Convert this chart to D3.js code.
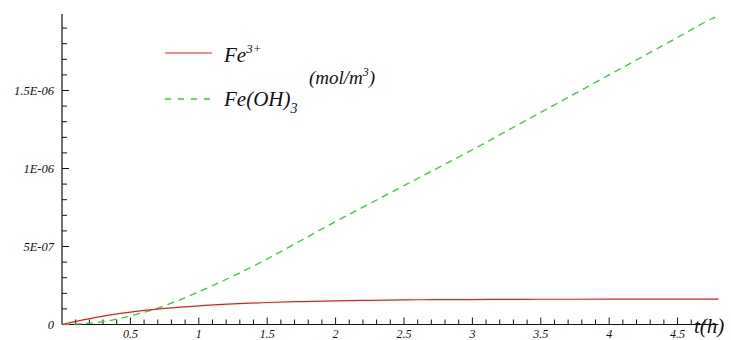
<!DOCTYPE html>
<html>
<head>
<meta charset="utf-8">
<script src="https://cdn.jsdelivr.net/npm/d3@7"></script>
<style>
  body { margin: 0; background: #fff; }
</style>
</head>
<body>
<div id="chart"></div>
<script>
// time in hours
const times = [0, 0.25, 0.5, 0.75, 1.0, 1.25, 1.5, 1.75, 2.0, 2.25, 2.5, 2.75, 3.0, 3.25, 3.5, 3.75, 4.0, 4.25, 4.5, 4.75, 4.8];
// Fe3+ concentration (mol/m3)
const fe3 = [0, 0.046e-6, 0.079e-6, 0.103e-6, 0.120e-6, 0.132e-6, 0.141e-6, 0.147e-6, 0.152e-6, 0.155e-6, 0.158e-6, 0.159e-6, 0.160e-6, 0.161e-6, 0.162e-6, 0.162e-6, 0.163e-6, 0.163e-6, 0.163e-6, 0.163e-6, 0.163e-6];
// Fe(OH)3 concentration (mol/m3)
const feoh3 = [0, 0.012e-6, 0.055e-6, 0.12e-6, 0.21e-6, 0.31e-6, 0.42e-6, 0.54e-6, 0.66e-6, 0.775e-6, 0.89e-6, 1.005e-6, 1.12e-6, 1.24e-6, 1.36e-6, 1.48e-6, 1.60e-6, 1.72e-6, 1.84e-6, 1.96e-6, 1.98e-6];

const xMajor = [0.5, 1, 1.5, 2, 2.5, 3, 3.5, 4, 4.5];
const yMajor = [0, 5e-7, 1e-6, 1.5e-6];
const yLabels = ["0", "5E-07", "1E-06", "1.5E-06"];

const FONT = 'Liberation Serif';
const width = 731, height = 340;
const svg = d3.select('#chart').append('svg')
  .attr('width', width)
  .attr('height', height);

const x = d3.scaleLinear().domain([0, 4.8]).range([62, 718.6]);
const y = d3.scaleLinear().domain([0, 2e-6]).range([324.5, 12.5]);

function txt(sel) {
  return sel.attr('font-family', FONT).attr('font-style', 'italic').attr('fill', '#111');
}

// x axis (ticks point up, inside)
const xMinor = d3.range(1, 48).map(i => i / 10).filter(v => Math.abs(v * 2 - Math.round(v * 2)) > 1e-6);
const gx = svg.append('g').attr('transform', `translate(0,${y(0)})`);
gx.append('line').attr('x1', x(0)).attr('x2', x(4.8)).attr('stroke', '#111').attr('stroke-width', 1.2);
gx.selectAll('.xmin').data(xMinor).enter().append('line')
  .attr('x1', d => x(d)).attr('x2', d => x(d)).attr('y1', 0).attr('y2', -5)
  .attr('stroke', '#111');
gx.selectAll('.xmaj').data(xMajor).enter().append('line')
  .attr('x1', d => x(d)).attr('x2', d => x(d)).attr('y1', 0).attr('y2', -7)
  .attr('stroke', '#111');
gx.selectAll('.xlab').data(xMajor).enter().append('text')
  .call(txt)
  .attr('x', d => x(d)).attr('y', 13)
  .attr('text-anchor', 'middle').attr('font-size', 12)
  .text(d => d);

// y axis (ticks point right, inside)
const yMinor = d3.range(1, 20).map(i => i * 1e-7).filter(v => Math.round(v / 1e-7) % 5 !== 0);
const gy = svg.append('g').attr('transform', `translate(${x(0)},0)`);
gy.append('line').attr('y1', y(0)).attr('y2', y(1.99e-6)).attr('stroke', '#111').attr('stroke-width', 1.2);
gy.selectAll('.ymin').data(yMinor).enter().append('line')
  .attr('y1', d => y(d)).attr('y2', d => y(d)).attr('x1', 0).attr('x2', 5)
  .attr('stroke', '#111');
gy.selectAll('.ymaj').data(yMajor).enter().append('line')
  .attr('y1', d => y(d)).attr('y2', d => y(d)).attr('x1', 0).attr('x2', 7)
  .attr('stroke', '#111');
gy.selectAll('.ylab').data(yMajor).enter().append('text')
  .call(txt)
  .attr('x', -8).attr('y', d => y(d) + 4)
  .attr('text-anchor', 'end').attr('font-size', 12.5)
  .text((d, i) => yLabels[i]);

// axis title
svg.append('text').call(txt).attr('x', 694).attr('y', 333).attr('font-size', 21).text('t(h)');

// curves
const line = d3.line().curve(d3.curveMonotoneX);
svg.append('path')
  .attr('d', line(times.map((t, i) => [x(t), y(feoh3[i])])))
  .attr('fill', 'none').attr('stroke', '#33cc33').attr('stroke-width', 1.3)
  .attr('stroke-dasharray', '7,5');
svg.append('path')
  .attr('d', line(times.map((t, i) => [x(t), y(fe3[i])])))
  .attr('fill', 'none').attr('stroke', '#dd1f1f').attr('stroke-width', 1.2);

// legend
const lg = svg.append('g');
lg.append('line').attr('x1', 165).attr('x2', 212).attr('y1', 53).attr('y2', 53)
  .attr('stroke', '#dd1f1f').attr('stroke-width', 1.2);
lg.append('line').attr('x1', 165).attr('x2', 212).attr('y1', 99).attr('y2', 99)
  .attr('stroke', '#33cc33').attr('stroke-width', 1.3).attr('stroke-dasharray', '6,7');
const t1 = lg.append('text').call(txt).attr('x', 224).attr('y', 62).attr('font-size', 21);
t1.append('tspan').text('Fe');
t1.append('tspan').attr('dy', -9).attr('font-size', 13).text('3+');
const t2 = lg.append('text').call(txt).attr('x', 224).attr('y', 106).attr('font-size', 21);
t2.append('tspan').text('Fe(OH)');
t2.append('tspan').attr('dy', 7).attr('font-size', 14).text('3');
const t3 = lg.append('text').call(txt).attr('x', 309).attr('y', 84).attr('font-size', 19);
t3.append('tspan').text('(mol/m');
t3.append('tspan').attr('dy', -8).attr('font-size', 12).text('3');
t3.append('tspan').attr('dy', 8).text(')');
</script>
</body>
</html>
